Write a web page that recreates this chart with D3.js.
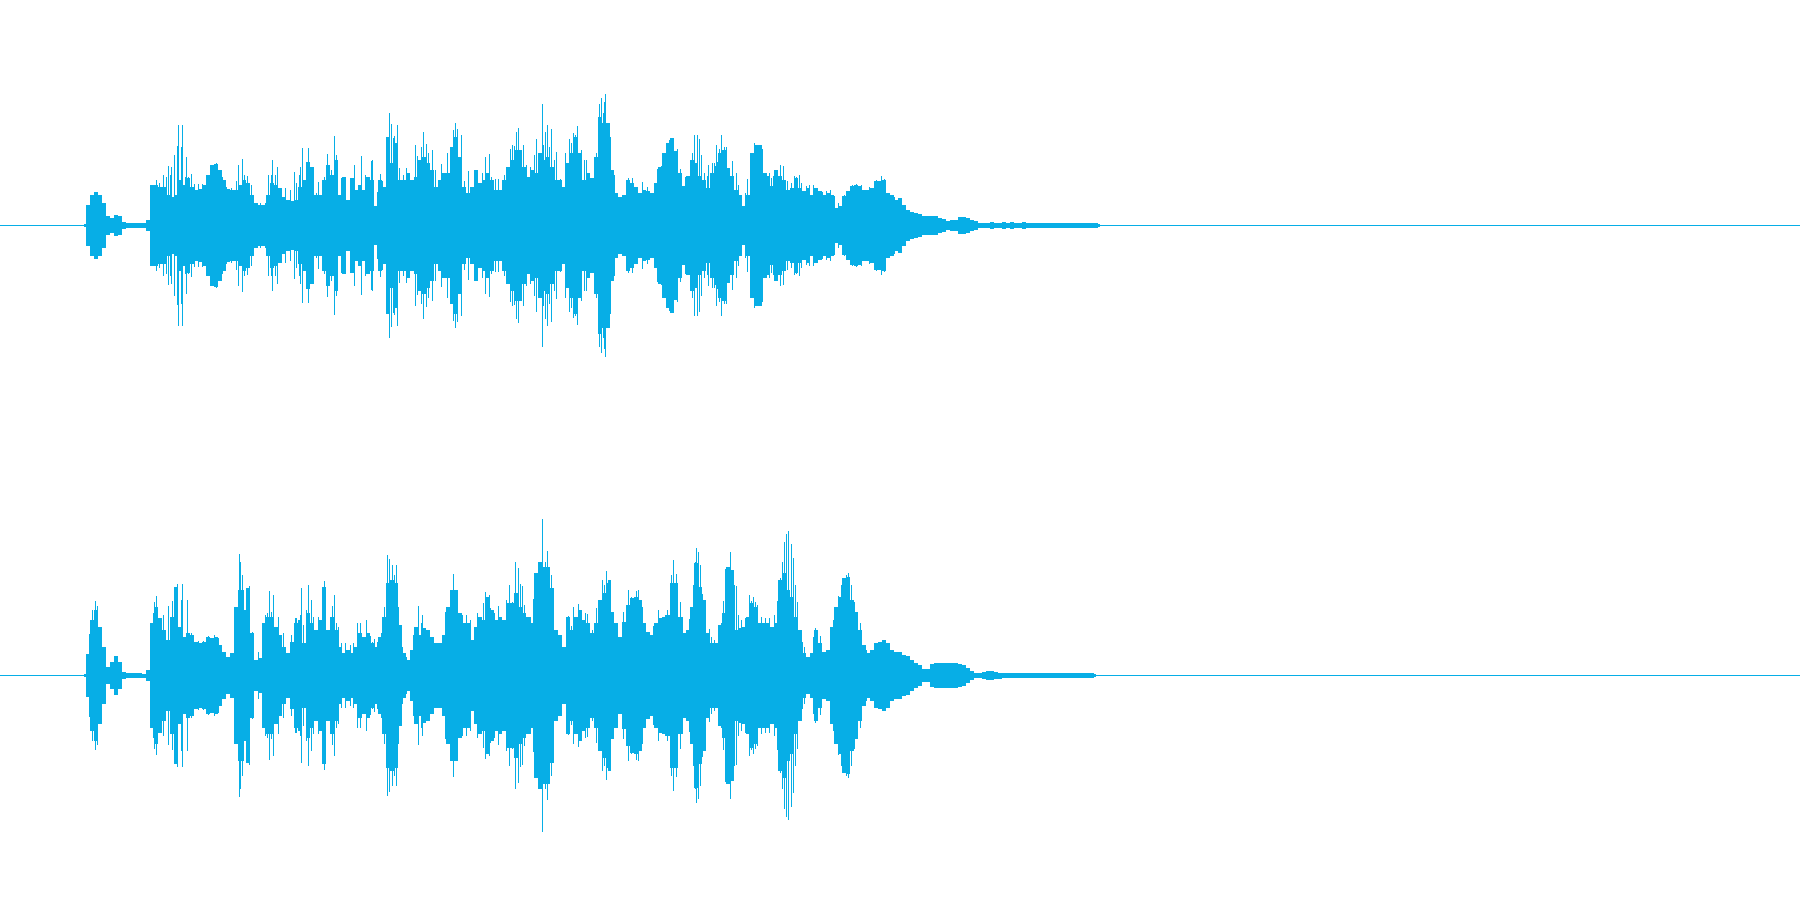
<!DOCTYPE html>
<html>
<head>
<meta charset="utf-8">
<script src="https://cdn.jsdelivr.net/npm/d3@7/dist/d3.min.js"></script>
<style>html,body{margin:0;padding:0;background:#fff;overflow:hidden}svg{display:block}</style>
</head>
<body>
<svg id="chart" width="1800" height="900"></svg>
<script>
const timeStart = 84, timeStep = 4;

const upperEnvelope = [
1,20,30,33,30,22,9,7,10,9,3,2,2,2,2,2,5,40,40,38,38,30,28,30,45,40,47,38,35,36,40,50,60,61,55,45,36,35,35,40,45,42,30,22,20,20,30,42,40,37,28,25,24,25,38,45,63,58,30,30,45,60,50,65,30,48,25,47,35,40,35,48,
45,19,45,38,88,62,82,45,45,52,45,48,65,68,62,55,38,45,52,52,78,88,68,38,32,38,55,42,45,52,45,35,35,45,58,65,75,75,58,48,55,52,72,65,68,58,45,45,38,62,72,88,72,45,52,47,68,108,102,102,55,32,28,30,45,42,38,32,35,34,32,42,58,72,82,
87,74,52,39,49,65,62,49,45,37,52,59,72,75,57,49,35,30,19,30,72,80,80,52,49,39,55,49,45,35,37,47,37,34,37,30,37,34,30,32,30,17,19,29,34,39,40,39,35,35,37,44,44,45,32,30,25,27,20,15,13,12,11,9,9,9,9,7,6,4,5,5,8,8,7,5,4,2,
2,2,3,2,2,3,2,3,2,2,3,2,2,2,2,2,2,2,2,2,2,2,2,2,2,2,2,2,2,1
];
const upperSpikeTimes = [
178.3,182.3,177,181,174,171.7,168.3,163.3,186.7,242.3,238.3,272,277.3,302.3,308.3,300,334.3,327.3,336.7,361.7,354.3,367.7,318.3,206.7,191,268.3,294,
389.3,391,397.3,394,415.3,423.3,426,432,455.3,453.3,457.3,461.3,468.3,485.3,489,516,518.3,512,523.3,534.3,536.3,542.3,545.3,547.3,551.3,556,565,569.3,573.3,577.3,581,586,599.3,601.3,604.3,605.3,598.3,610,
694.3,697.3,699.3,692.3,701.3,708.3,712.3,716.3,719.3,721.3,724.3,726,732.3,736.3,747.7,762.3,769,773.3,780.3,783.3,794.3,799.3,809,813.3,830,834.3,881,884.3,876.7,
156,159.3,166.7,170,185,188.3,194,198,202.3,211.7,216.7,222.7,226.7,231.7,236.7,245,247.7,251.7,260.7,265,271,275,280.7,285.7,290,296.7,299.3,310.7,312.7,316.7,324,331.7,341.7,345,351,358.3,365,
372,371,377.3,380.7,382.7,386.7,393.3,399.3,403.3,406.7,409.3,417.3,421.3,428.7,435.3,441.3,447.3,450,460,464.3,470,476,482,491.3,495,498.7,504.3,510,514,520.7,526.7,530.7,538.3,543.3,549.3,554,560.7,566.7,571.7,575,584,590.7,596.7,603.3,608,612,614.3,628,632.3,642.3,647.7,657.3,661,665,669,
677.3,680,685.3,690,704.3,707.3,714.3,717.7,738.3,745,754,760,766.7,771,777.3,787.3,791.3,796.7,801.7,806,817.3,822,826.7,838.3,844,852.3,856,861.7,869.3,874.7,888.3,894,900
];
const upperSpikePeaks = [
100,100,79,78,70,58,59,50,68,66,60,65,58,77,77,58,89,71,70,69,60,48,43,50,51,50,53,
112,101,100,89,80,93,81,75,102,95,96,90,54,68,71,93,97,80,80,70,86,121,93,100,96,73,72,86,92,99,75,65,121,127,123,131,108,88,
90,90,86,72,70,60,62,80,76,90,78,78,64,52,46,76,52,49,60,59,49,50,40,40,35,29,49,46,45,
45,42,48,50,48,48,41,41,41,60,62,48,38,37,44,50,49,40,22,22,50,50,37,37,35,42,50,58,57,32,48,55,47,45,46,32,50,
65,64,33,51,44,73,87,57,50,57,49,69,78,72,55,61,72,78,68,44,32,55,52,48,46,46,50,76,79,67,60,58,72,80,78,65,46,62,82,90,65,47,72,112,102,55,50,47,47,43,38,56,59,72,85,
76,56,48,56,52,49,62,63,40,32,82,80,52,47,55,44,42,48,42,39,37,33,34,22,30,40,41,40,38,40,31,28,26
];

const lowerEnvelope = [
1,21,55,65,48,28,8,13,19,13,3,2,2,2,2,1.5,5,52,68,57,45,35,58,88,48,38,42,40,33,32,33,38,37,38,30,23,18,22,68,85,65,87,42,15,17,52,58,58,48,40,28,22,33,52,55,32,62,52,45,55,88,45,58,45,28,22,25,22,28,42,38,42,
32,28,38,58,92,95,92,50,22,15,25,48,40,47,45,38,32,32,40,68,85,85,62,52,52,35,48,58,55,78,65,55,58,55,72,72,82,68,62,58,52,102,113,108,108,87,45,40,28,58,45,58,65,55,52,42,52,75,82,92,63,52,38,53,70,77,78,75,52,43,40,52,57,58,60,
92,92,58,42,45,68,112,88,75,42,32,32,50,62,108,105,45,47,48,58,72,68,52,52,52,48,52,95,102,85,78,58,45,22,18,22,45,32,23,25,48,68,78,97,98,75,63,45,30,22,25,32,33,35,32,25,23,23,20,19,15,12,10,6,6,11,12,12,12,12,12,12,11,10,7,4,2,2,3,4,4,3,2.5,
2,2,2,2,2,2,2,2,2,2,2,2,2,2,2,2,2,2,2,2,2,2,2,1
];
const lowerSpikeTimes = [
92.7,97.3,95,154.3,156.7,168.3,172.7,177.3,182.3,187.7,239.3,240.3,242.3,238.3,249,269.3,273.3,301.7,308.3,324.3,334.3,332.3,311.7,357.7,366,296.7,
387.3,389.3,392.3,394.3,396.3,418.3,422.3,453.3,455,445.3,485.3,489,498,509.3,515.3,518.3,520.3,522.7,533.3,542.3,538.3,545.3,547.3,551.3,573.3,578.3,587.3,596,602.3,606.3,609.3,610.3,628.3,638.3,658.3,667.3,
673.3,696.3,698.3,700.3,693.3,730.3,725.3,728.3,732.3,736.3,749.3,753.3,784.3,786.3,788.3,791.3,793.3,782.3,795.3,777.3,838.3,848.3,836.3,820,815.3,854,
89.3,91.7,99.3,101.7,153,157.3,160,163.3,170,175.7,181,185,191.7,198.3,203.3,208.3,214,218.3,231.7,234.3,243.3,246.7,252.7,258.3,265,267.3,271.3,278.3,283.3,291.7,295.7,300,303.3,306,313.3,318.3,322.3,326.7,330,336.7,338.3,341.7,345.7,350,353.3,360,
370,372.7,374.3,377.3,381.7,384.3,390.7,398.3,402.3,406.7,410.7,413.3,415.3,421,428.3,433.3,442.3,447.7,450,457.3,462,466.7,470,477.3,481.7,483.3,490.7,494,501.7,506.7,512.7,524.3,526.7,530.7,536.7,540.7,544,553.3,560.7,568.3,571,580.7,585,592.3,600.7,604.3,608.3,613.3,623.3,631,636,642.7,653.3,660.7,665,
671,676,680,682.3,685,689.3,691.7,695,702.3,704.3,709,711.3,714.3,721,723.3,727.3,734,738.3,741,745,751,755,757.3,761,765,769.3,774.7,780,789.3,797.3,802,804.7,813.3,821.7,833.3,841.7,844,846,851,855.7,860,866.7
];
const lowerSpikePeaks = [
65,69,74,73,79,69,74,91,91,75,121,113,100,80,89,84,80,87,90,94,80,69,75,52,55,57,
120,116,110,100,110,69,60,101,85,63,83,80,69,90,113,107,91,89,76,156,113,113,124,100,68,71,61,67,95,104,95,95,85,85,65,65,
115,127,123,110,90,123,106,108,105,89,80,78,133,141,144,131,117,113,90,74,79,102,68,39,47,73,
41,54,48,35,62,62,55,60,55,88,75,38,42,34,34,39,40,37,22,29,85,85,43,23,60,62,63,58,42,40,57,60,50,65,58,58,52,42,43,52,48,32,32,30,32,52,
39,33,36,33,42,68,95,68,28,18,25,40,48,52,45,38,35,68,82,65,60,60,55,62,55,72,67,62,58,75,73,70,58,58,102,100,108,52,40,59,49,63,62,45,75,90,95,62,63,78,84,68,49,57,60,
100,101,73,58,40,56,68,113,81,73,46,38,35,52,74,105,90,60,55,57,74,73,70,58,57,57,60,97,78,73,33,28,38,29,55,90,97,100,90,62,52,25
];

const waveColor = "#07aee6";
const width = 1800, channelHeight = 450;
const svg = d3.select("#chart");
const x = d3.scaleLinear().domain([0, 1800]).range([0, width]);

function drawChannel(envelope, spikeTimes, spikePeaks, offset) {
  const y = d3.scaleLinear().domain([-225, 225]).range([channelHeight, 0]);
  const g = svg.append("g").attr("transform", `translate(0,${offset})`).attr("shape-rendering", "crispEdges");
  g.append("rect").attr("x", x(0)).attr("width", width)
    .attr("y", y(0)).attr("height", 1).attr("fill", waveColor);
  const samples = envelope.map((v, i) => ({ t: timeStart + i * timeStep, v }));
  const area = d3.area().curve(d3.curveStep).x(d => x(d.t)).y0(d => y(-d.v) + 1).y1(d => y(d.v));
  g.append("path").datum(samples).attr("d", area).attr("fill", waveColor);
  g.selectAll("rect.spike").data(spikeTimes).join("rect")
    .attr("class", "spike")
    .attr("x", t => Math.floor(x(t)))
    .attr("width", 1)
    .attr("y", (t, i) => y(spikePeaks[i]))
    .attr("height", (t, i) => y(-spikePeaks[i]) - y(spikePeaks[i]) + 1)
    .attr("fill", waveColor);
}
drawChannel(upperEnvelope, upperSpikeTimes, upperSpikePeaks, 0);
drawChannel(lowerEnvelope, lowerSpikeTimes, lowerSpikePeaks, channelHeight);
</script>
</body>
</html>
